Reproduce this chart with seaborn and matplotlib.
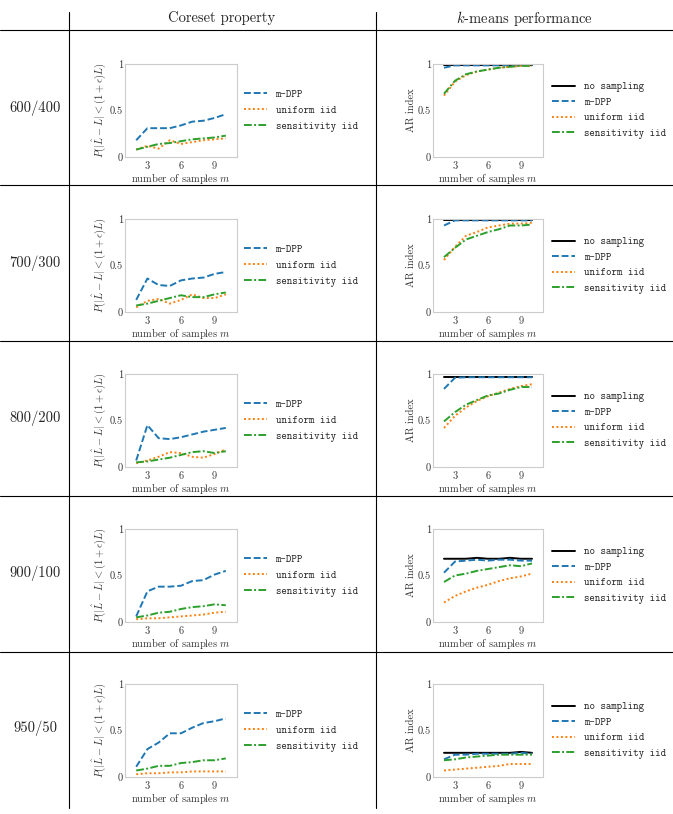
import numpy as np
import pandas as pd
import matplotlib
matplotlib.use("Agg")
import matplotlib.pyplot as plt
from matplotlib.lines import Line2D
import seaborn as sns

# ---------------- data ----------------
m_values = [2, 3, 4, 5, 6, 7, 8, 9, 10]
row_labels = ["600/400", "700/300", "800/200", "900/100", "950/50"]
method_names = ["no sampling", "m-DPP", "uniform iid", "sensitivity iid"]

# Coreset property: P(|L_hat - L| < (1+eps)L)
coreset_mdpp = [
    [0.18, 0.31, 0.31, 0.31, 0.34, 0.38, 0.39, 0.42, 0.46],
    [0.13, 0.36, 0.29, 0.28, 0.34, 0.36, 0.37, 0.41, 0.43],
    [0.07, 0.45, 0.31, 0.30, 0.32, 0.35, 0.38, 0.40, 0.42],
    [0.06, 0.33, 0.38, 0.38, 0.39, 0.44, 0.45, 0.51, 0.55],
    [0.11, 0.30, 0.37, 0.47, 0.47, 0.53, 0.58, 0.60, 0.63],
]
coreset_uniform = [
    [0.08, 0.12, 0.09, 0.18, 0.14, 0.16, 0.18, 0.19, 0.20],
    [0.05, 0.12, 0.14, 0.09, 0.13, 0.19, 0.15, 0.15, 0.19],
    [0.04, 0.07, 0.11, 0.16, 0.15, 0.11, 0.10, 0.14, 0.19],
    [0.03, 0.04, 0.04, 0.05, 0.06, 0.07, 0.08, 0.10, 0.11],
    [0.03, 0.04, 0.04, 0.05, 0.05, 0.06, 0.06, 0.06, 0.06],
]
coreset_sens = [
    [0.08, 0.11, 0.14, 0.15, 0.17, 0.19, 0.20, 0.21, 0.23],
    [0.07, 0.09, 0.12, 0.15, 0.18, 0.16, 0.16, 0.19, 0.21],
    [0.05, 0.06, 0.08, 0.10, 0.13, 0.16, 0.17, 0.15, 0.17],
    [0.05, 0.07, 0.10, 0.11, 0.14, 0.16, 0.17, 0.19, 0.18],
    [0.07, 0.09, 0.12, 0.12, 0.15, 0.16, 0.18, 0.18, 0.20],
]

# k-means performance: AR index
ar_nosampling = [
    [0.99, 0.99, 0.99, 0.99, 0.99, 0.99, 0.99, 0.99, 0.99],
    [0.99, 0.99, 0.99, 0.99, 0.99, 0.99, 0.99, 0.99, 0.99],
    [0.97, 0.97, 0.97, 0.97, 0.97, 0.97, 0.97, 0.97, 0.97],
    [0.68, 0.68, 0.68, 0.69, 0.68, 0.68, 0.69, 0.68, 0.68],
    [0.26, 0.26, 0.26, 0.26, 0.26, 0.26, 0.26, 0.27, 0.26],
]
ar_mdpp = [
    [0.96, 0.985, 0.985, 0.985, 0.985, 0.985, 0.985, 0.985, 0.985],
    [0.93, 0.985, 0.985, 0.985, 0.985, 0.985, 0.985, 0.985, 0.985],
    [0.84, 0.96, 0.965, 0.965, 0.965, 0.965, 0.965, 0.965, 0.965],
    [0.53, 0.65, 0.66, 0.67, 0.66, 0.67, 0.67, 0.66, 0.66],
    [0.19, 0.24, 0.24, 0.25, 0.25, 0.25, 0.25, 0.26, 0.25],
]
ar_uniform = [
    [0.66, 0.81, 0.88, 0.92, 0.94, 0.96, 0.97, 0.98, 0.98],
    [0.56, 0.70, 0.82, 0.86, 0.91, 0.93, 0.95, 0.95, 0.96],
    [0.42, 0.55, 0.64, 0.71, 0.76, 0.80, 0.84, 0.87, 0.89],
    [0.21, 0.28, 0.33, 0.37, 0.40, 0.44, 0.47, 0.49, 0.52],
    [0.07, 0.08, 0.09, 0.10, 0.11, 0.12, 0.14, 0.14, 0.14],
]
ar_sens = [
    [0.68, 0.82, 0.89, 0.92, 0.94, 0.96, 0.97, 0.98, 0.98],
    [0.59, 0.69, 0.78, 0.82, 0.86, 0.89, 0.93, 0.93, 0.94],
    [0.49, 0.59, 0.67, 0.72, 0.77, 0.79, 0.83, 0.86, 0.86],
    [0.43, 0.50, 0.52, 0.55, 0.57, 0.59, 0.61, 0.60, 0.63],
    [0.18, 0.19, 0.21, 0.22, 0.23, 0.24, 0.24, 0.24, 0.24],
]

# ---------------- style ----------------
sns.set_style("white")
plt.rcParams["font.family"] = ["cmr10", "DejaVu Serif"]
plt.rcParams["mathtext.fontset"] = "cm"
plt.rcParams["axes.formatter.use_mathtext"] = True
plt.rcParams["axes.edgecolor"] = "0.8"
plt.rcParams["axes.linewidth"] = 0.8

palette = {"no sampling": "black", "m-DPP": "#1f77b4",
           "uniform iid": "#ff7f0e", "sensitivity iid": "#2ca02c"}
dashes = {"no sampling": "", "m-DPP": (3.5, 1.5),
          "uniform iid": (1, 1.3), "sensitivity iid": (4, 1.2, 1, 1.2)}

W, H = 673, 814
fig = plt.figure(figsize=(W / 100, H / 100), dpi=100)


def px_rect(left, top, w, h):
    return [left / W, 1 - (top + h) / H, w / W, h / H]


def hline(y, x0=0, x1=W):
    fig.add_artist(Line2D([x0 / W, x1 / W], [1 - y / H, 1 - y / H],
                          color="black", lw=0.8, transform=fig.transFigure))


def vline(x, y0, y1):
    fig.add_artist(Line2D([x / W, x / W], [1 - y0 / H, 1 - y1 / H],
                          color="black", lw=0.8, transform=fig.transFigure))


# table lines
hline(30)
for yy in [185, 340.5, 496, 651.5]:
    hline(yy)
vline(69, 12, 808)
vline(376, 12, 808)

fig.text(222 / W, 1 - 18 / H, "Coreset property", ha="center", va="center",
         fontsize=10.5)
fig.text(524 / W, 1 - 18 / H, "$k$-means performance", ha="center",
         va="center", fontsize=10.5)

TFS = 7.5
LEGFS = 7.5


def style_axes(ax, ylabel):
    ax.set_xlim(1, 11)
    ax.set_ylim(0, 1)
    ax.set_xticks([3, 6, 9])
    ax.set_yticks([0, 0.5, 1])
    ax.set_yticklabels(["0", "0.5", "1"])
    ax.tick_params(labelsize=TFS, pad=1.5, length=0, labelcolor="0.2")
    ax.set_xlabel("number of samples $m$", fontsize=TFS, labelpad=1,
                  color="0.2")
    ax.set_ylabel(ylabel, fontsize=TFS, labelpad=1, color="0.2")


for r in range(5):
    top = 64 + r * 155
    fig.text(35 / W, 1 - (top + 44) / H, row_labels[r], ha="center",
             va="center", fontsize=10.5)

    # ---- left: coreset property
    dl = pd.DataFrame({
        "m": m_values * 3,
        "value": coreset_mdpp[r] + coreset_uniform[r] + coreset_sens[r],
        "method": (["m-DPP"] * 9 + ["uniform iid"] * 9
                   + ["sensitivity iid"] * 9),
    })
    axl = fig.add_axes(px_rect(125, top, 112, 93))
    sns.lineplot(data=dl, x="m", y="value", hue="method", style="method",
                 palette=palette, dashes=dashes, lw=1.4, ax=axl,
                 legend=False)
    style_axes(axl, r"$P(|\hat{L}-L|<(1+\epsilon)L)$")
    handles = [Line2D([], [], color=palette[n], lw=1.4,
                      dashes=dashes[n] if dashes[n] else (None, None))
               for n in method_names[1:]]
    axl.legend(handles, method_names[1:], loc="center left",
               bbox_to_anchor=(1.0, 0.5), frameon=False,
               prop={"family": "cmtt10", "size": LEGFS},
               handlelength=2.2, handletextpad=0.8, labelspacing=0.55,
               borderaxespad=0.3)

    # ---- right: AR index
    dr = pd.DataFrame({
        "m": m_values * 4,
        "value": ar_nosampling[r] + ar_mdpp[r] + ar_uniform[r] + ar_sens[r],
        "method": (["no sampling"] * 9 + ["m-DPP"] * 9 + ["uniform iid"] * 9
                   + ["sensitivity iid"] * 9),
    })
    axr = fig.add_axes(px_rect(433, top, 110, 93))
    sns.lineplot(data=dr, x="m", y="value", hue="method", style="method",
                 palette=palette, dashes=dashes, lw=1.4, ax=axr,
                 legend=False)
    style_axes(axr, "AR index")
    handles = [Line2D([], [], color=palette[n], lw=1.4,
                      dashes=dashes[n] if dashes[n] else (None, None))
               for n in method_names]
    axr.legend(handles, method_names, loc="center left",
               bbox_to_anchor=(1.0, 0.5), frameon=False,
               prop={"family": "cmtt10", "size": LEGFS},
               handlelength=2.2, handletextpad=0.8, labelspacing=0.5,
               borderaxespad=0.5)

fig.savefig("out.png", dpi=100)
